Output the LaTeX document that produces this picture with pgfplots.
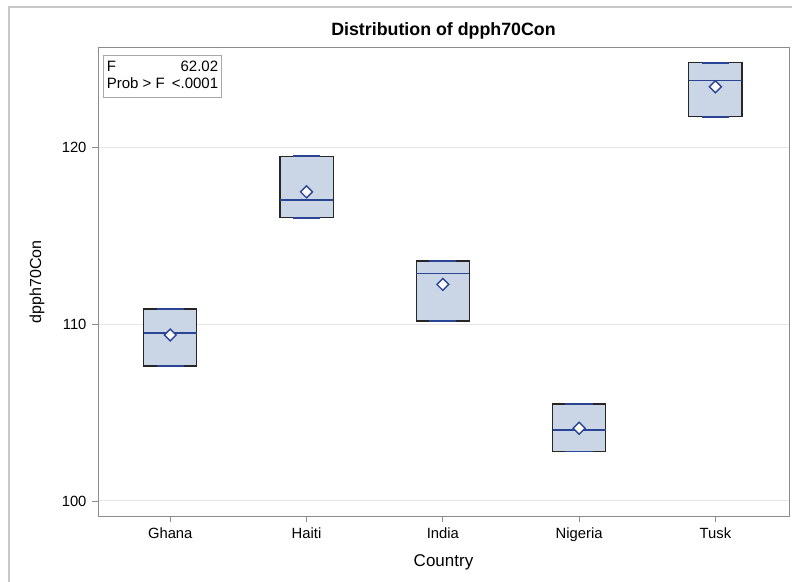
\documentclass[border=0pt]{standalone}
\usepackage{fontspec}
\setmainfont{Liberation Sans}
\usepackage{pgfplots}
\pgfplotsset{compat=1.18}
\definecolor{boxfill}{HTML}{CAD5E6}
\definecolor{sasblue}{HTML}{2A4595}
\definecolor{boxline}{HTML}{262626}
\definecolor{framegray}{HTML}{8C8C8C}
\definecolor{gridgray}{HTML}{E6E6E6}
\definecolor{outergray}{HTML}{C8C8C8}
\definecolor{insetgray}{HTML}{A8A8A8}
\pgfplotsset{
  boxst/.style={draw=boxline, fill=boxfill, line width=1.2bp},
  medst/.style={draw=sasblue, line width=1.4bp},
  capst/.style={draw=sasblue, line width=1.6bp},
}
\begin{document}
\begin{tikzpicture}
\path[use as bounding box] (-98bp,-66bp) rectangle (694bp,516bp);
\draw[outergray, line width=1.2bp] (-89bp,-70bp) -- (-89bp,509bp) -- (700bp,509bp);
\begin{axis}[
  at={(0bp,0bp)}, anchor=south west, scale only axis,
  width=691bp, height=468bp,
  xmin=0.47, xmax=5.54, ymin=99.15, ymax=125.6,
  xtick={1,2,3,4,5}, xticklabels={Ghana,Haiti,India,Nigeria,Tusk},
  ytick={100,110,120},
  tick align=outside, xtick pos=bottom, ytick pos=left,
  major tick length=6bp,
  tick style={framegray, line width=0.8bp},
  axis line style={framegray, line width=1bp},
  ymajorgrids, grid style={gridgray, line width=1bp},
  /pgf/number format/assume math mode=true,
  ticklabel style={font=\fontsize{14.8bp}{17bp}\selectfont},
  xticklabel style={yshift=-2bp},
  yticklabel style={xshift=-2bp},
  title={Distribution of dpph70Con},
  every axis title/.style={at={(axis description cs:0.5,1)}, anchor=center, yshift=17bp,
    font=\bfseries\fontsize{17.8bp}{20bp}\selectfont},
  xlabel={Country},
  every axis x label/.style={at={(axis description cs:0.5,0)}, anchor=center, yshift=-46bp,
    font=\fontsize{17bp}{19bp}\selectfont},
  ylabel={dpph70Con},
  every axis y label/.style={at={(axis description cs:0,0.5)}, anchor=center, rotate=90, yshift=61bp,
    font=\fontsize{16bp}{19bp}\selectfont},
  clip=false,
]
% boxes (min = Q1, max = Q3): half width 0.195
\addplot[boxst] coordinates {(0.805,107.63) (1.195,107.63) (1.195,110.85) (0.805,110.85)} -- cycle;
\addplot[boxst] coordinates {(1.805,116.00) (2.195,116.00) (2.195,119.49) (1.805,119.49)} -- cycle;
\addplot[boxst] coordinates {(2.805,110.17) (3.195,110.17) (3.195,113.56) (2.805,113.56)} -- cycle;
\addplot[boxst] coordinates {(3.805,102.79) (4.195,102.79) (4.195,105.48) (3.805,105.48)} -- cycle;
\addplot[boxst] coordinates {(4.805,121.71) (5.195,121.71) (5.195,124.76) (4.805,124.76)} -- cycle;
% medians
\addplot[medst] coordinates {(0.805,109.49) (1.195,109.49)};
\addplot[medst] coordinates {(1.805,117.00) (2.195,117.00)};
\addplot[medst] coordinates {(2.805,112.86) (3.195,112.86)};
\addplot[medst] coordinates {(3.805,104.01) (4.195,104.01)};
\addplot[medst] coordinates {(4.805,123.75) (5.195,123.75)};
% whisker caps (min and max)
\addplot[capst] coordinates {(0.9,107.63) (1.1,107.63)};
\addplot[capst] coordinates {(0.9,110.85) (1.1,110.85)};
\addplot[capst] coordinates {(1.9,116.00) (2.1,116.00)};
\addplot[capst] coordinates {(1.9,119.49) (2.1,119.49)};
\addplot[capst] coordinates {(2.9,110.17) (3.1,110.17)};
\addplot[capst] coordinates {(2.9,113.56) (3.1,113.56)};
\addplot[capst] coordinates {(3.9,102.79) (4.1,102.79)};
\addplot[capst] coordinates {(3.9,105.48) (4.1,105.48)};
\addplot[capst] coordinates {(4.9,121.71) (5.1,121.71)};
\addplot[capst] coordinates {(4.9,124.76) (5.1,124.76)};
% means
\addplot[only marks, mark=square*, mark size=4.2bp,
  mark options={rotate=45, draw=sasblue, fill=white, line width=1.4bp}]
  coordinates {(1,109.38) (2,117.47) (3,112.24) (4,104.11) (5,123.41)};
% inset statistics
\node[anchor=north west, draw=insetgray, line width=0.8bp, inner sep=3.5bp,
  font=\fontsize{15bp}{18bp}\selectfont]
  at ([xshift=5bp, yshift=-7bp]rel axis cs:0,1)
  {\begin{tabular}{@{}l@{\hspace{7bp}}r@{}}F & 62.02\\[-1bp] Prob > F & <.0001\end{tabular}};
\end{axis}
\end{tikzpicture}
\end{document}
